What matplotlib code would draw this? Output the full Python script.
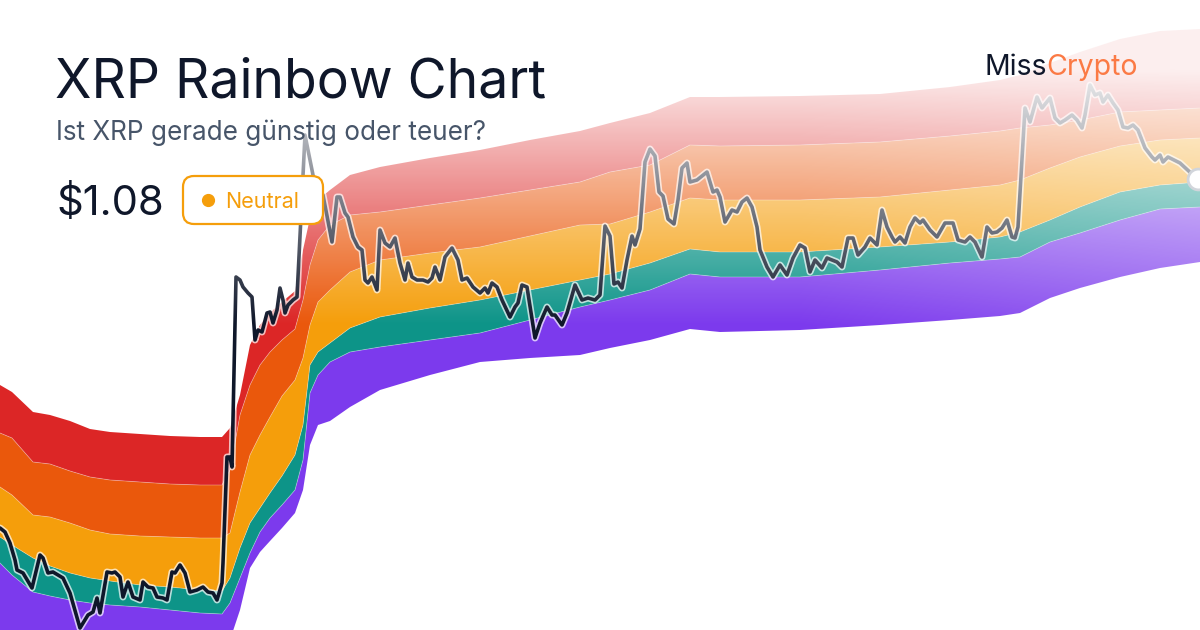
import numpy as np
import matplotlib
matplotlib.use("Agg")
import matplotlib.pyplot as plt
import matplotlib.patheffects as pe
from matplotlib.patches import FancyBboxPatch

# Chart units: x = time position, y = height measured from the top of the card
band_x = [0, 12, 33, 50, 70, 90, 110, 140, 170, 200, 222, 230, 240, 250, 260, 270, 282, 295,
          303, 310, 318, 330, 350, 380, 430, 480, 530, 580, 610, 650, 690, 720, 800, 880,
          950, 1000, 1020, 1050, 1080, 1120, 1160, 1200]

# band edges, from the bottom (purple) to the top (red)
edge_purple_bottom = [650, 660, 670, 672, 676, 680, 682, 684, 686, 688, 660, 640, 610, 568, 552, 541,
                      528, 513, 490, 445, 425, 421, 407, 390, 375, 362, 358, 355, 348, 340, 329, 332,
                      330, 325, 320, 316, 313, 298, 288, 277, 268, 262]
edge_purple_teal = [563, 575, 592, 596, 600, 603, 605, 607, 610, 613, 614, 603, 578, 553, 532, 518,
                    505, 490, 460, 393, 375, 362, 352, 347, 340, 333, 320, 307, 300, 290, 274, 277,
                    277, 270, 263, 259, 257, 242, 233, 220, 209, 207]
edge_teal_orange = [537, 545, 558, 566, 573, 578, 581, 585, 587, 590, 591, 578, 548, 523, 508, 493,
                    476, 455, 425, 365, 352, 343, 328, 317, 308, 300, 290, 280, 274, 263, 249, 252,
                    252, 247, 242, 237, 232, 220, 207, 192, 185, 182]
edge_orange_dark = [487, 495, 515, 517, 523, 530, 534, 536, 537, 538, 538, 533, 492, 455, 435, 417,
                    396, 380, 358, 325, 302, 290, 272, 260, 253, 247, 236, 225, 224, 212, 198, 200,
                    200, 197, 190, 185, 180, 168, 157, 146, 140, 138]
edge_dark_red = [433, 438, 462, 464, 471, 477, 480, 482, 484, 485, 485, 470, 415, 385, 365, 352,
                 340, 329, 300, 265, 240, 225, 215, 212, 205, 198, 190, 182, 172, 165, 145, 146,
                 145, 142, 136, 131, 128, 125, 120, 112, 110, 108]
edge_red_top = [385, 392, 412, 415, 421, 429, 432, 434, 436, 437, 437, 428, 395, 345, 325, 313,
                302, 291, 250, 218, 200, 190, 175, 167, 158, 150, 140, 131, 123, 113, 97, 97,
                96, 94, 87, 80, 75, 63, 52, 39, 31, 29]

band_colors = ['#7c3aed', '#0d9488', '#f59e0b', '#ea580c', '#dc2626']

price_x = [0, 5, 10, 15, 17, 23, 32, 40, 43, 48, 53, 63, 70, 80, 88, 93, 97, 100, 107, 112,
           115, 120, 123, 128, 133, 140, 143, 148, 153, 157, 163, 167, 172, 175, 180, 185, 190,
           197, 203, 208, 213, 217, 222, 223, 227, 230, 232, 236, 240, 243, 248, 252, 255, 258,
           262, 267, 270, 273, 277, 280, 283, 285, 288, 293, 297, 305, 314, 323, 332, 337, 340,
           345, 348, 353, 358, 362, 365, 368, 372, 377, 380, 385, 390, 395, 400, 405, 408, 412,
           417, 423, 428, 432, 435, 440, 445, 452, 458, 462, 467, 473, 480, 485, 488, 492, 497,
           502, 510, 515, 518, 522, 527, 535, 540, 547, 552, 555, 562, 567, 575, 582, 588, 595,
           600, 605, 610, 614, 618, 622, 627, 632, 635, 640, 645, 650, 655, 659, 663, 668, 674,
           678, 682, 687, 690, 697, 707, 713, 717, 720, 725, 732, 737, 742, 747, 752, 757, 760,
           767, 773, 780, 787, 793, 800, 805, 810, 815, 822, 827, 837, 842, 848, 853, 858, 865,
           870, 877, 882, 887, 892, 895, 900, 905, 910, 915, 920, 923, 930, 937, 945, 953, 958,
           965, 970, 975, 982, 987, 992, 997, 1002, 1007, 1012, 1015, 1018, 1025, 1030, 1037,
           1042, 1050, 1055, 1060, 1065, 1072, 1077, 1082, 1085, 1090, 1095, 1100, 1103, 1108,
           1113, 1118, 1123, 1128, 1133, 1138, 1145, 1152, 1155, 1160, 1163, 1168, 1180, 1193,
           1198]
price_y = [528, 532, 543, 560, 570, 573, 588, 555, 558, 573, 572, 578, 593, 628, 615, 612, 598,
           613, 572, 573, 572, 577, 597, 582, 597, 600, 582, 587, 588, 597, 598, 600, 572, 573,
           565, 573, 592, 590, 587, 592, 593, 600, 583, 563, 457, 457, 467, 277, 280, 287, 293,
           297, 340, 330, 332, 313, 312, 323, 310, 288, 300, 313, 305, 300, 297, 135, 180, 195,
           242, 197, 197, 213, 217, 237, 247, 250, 280, 283, 277, 290, 230, 243, 247, 238, 263,
           280, 263, 277, 280, 280, 282, 278, 267, 280, 257, 248, 260, 280, 278, 287, 293, 288,
           293, 283, 287, 300, 317, 307, 303, 285, 287, 338, 323, 307, 315, 315, 325, 313, 285,
           300, 298, 300, 295, 226, 236, 284, 282, 288, 260, 236, 245, 229, 162, 149, 156, 192,
           196, 219, 224, 200, 168, 163, 182, 180, 172, 192, 190, 197, 222, 210, 212, 202, 198,
           207, 227, 250, 267, 277, 265, 275, 258, 245, 248, 272, 260, 268, 258, 262, 267, 238,
           238, 255, 247, 238, 245, 210, 227, 237, 242, 237, 243, 227, 218, 223, 220, 230, 237,
           223, 223, 240, 242, 237, 242, 257, 227, 233, 232, 228, 220, 237, 238, 227, 108, 122,
           97, 108, 98, 118, 123, 120, 115, 120, 128, 115, 85, 95, 93, 102, 95, 103, 110, 127,
           128, 125, 130, 148, 157, 160, 155, 162, 157, 163, 175, 179]

title = "XRP Rainbow Chart"
subtitle = "Ist XRP gerade günstig oder teuer?"
price_label = "$1.08"
zone_label = "Neutral"

W, H = 1200, 630
fig = plt.figure(figsize=(12, 6.3), dpi=100)
fig.patch.set_facecolor('white')
ax = fig.add_axes([0, 0, 1, 1])
ax.set_xlim(0, W)
ax.set_ylim(H, 0)
ax.axis('off')

# Rainbow bands
edges = [edge_purple_bottom, edge_purple_teal, edge_teal_orange, edge_orange_dark,
         edge_dark_red, edge_red_top]
for i, color in enumerate(band_colors):
    ax.fill_between(band_x, edges[i], edges[i + 1], color=color, lw=0, zorder=1)
for e in edges[1:-1]:
    ax.plot(band_x, e, color='white', lw=0.6, alpha=0.35, zorder=2)

# Price line with a light halo
ax.plot(price_x, price_y, color='#0f172a', lw=2.6, solid_joinstyle='round',
        solid_capstyle='round', zorder=5,
        path_effects=[pe.Stroke(linewidth=5.0, foreground='white', alpha=0.7), pe.Normal()])

# White wash: fades the upper part of the chart, a little more towards the right
yy = np.arange(H)[:, None] + 0.5
xx = np.arange(W)[None, :] + 0.5
a_v = np.clip(0.0036 * (325 - yy), 0, 0.92)
a_h = 0.18 * np.clip((xx - 800) / 400, 0, 1)
wash = np.ones((H, W, 4))
wash[:, :, 3] = 1 - (1 - a_v) * (1 - a_h)
ax.imshow(wash, extent=(0, W, H, 0), aspect='auto', zorder=8, interpolation='bilinear')

# Current price marker
ax.plot(price_x[-1], price_y[-1], 'o', ms=15, mfc='white', mec='#d1d5db', mew=2, zorder=9)

# Texts
ax.text(55, 97, title, fontsize=38.5, family='Inter', color='#0f172a', va='baseline', zorder=30)
ax.text(56, 140, subtitle, fontsize=18.8, family='Inter', color='#475569', va='baseline', zorder=30)
ax.text(56, 215, price_label, fontsize=30, family='Inter', color='#0f172a', va='baseline', zorder=30)

# Neutral badge
badge = FancyBboxPatch((183, 176), 140, 48, boxstyle="round,pad=0,rounding_size=11",
                       fc='white', ec='#f59e0b', lw=1.6, zorder=25)
ax.add_patch(badge)
ax.plot(208, 200, 'o', ms=8.5, color='#f59e0b', zorder=30)
ax.text(225, 208, zone_label, fontsize=15.5, family='Inter', color='#f59e0b', va='baseline', zorder=30)

# MissCrypto logo
ax.text(1047, 75, "Miss", fontsize=20.5, family='Inter', color='#0f172a', ha='right', va='baseline', zorder=30)
ax.text(1046, 75, "Crypto", fontsize=20.5, family='Inter', color='#fb7a45', ha='left', va='baseline', zorder=30)

fig.savefig('out.png', dpi=100, facecolor='white')
